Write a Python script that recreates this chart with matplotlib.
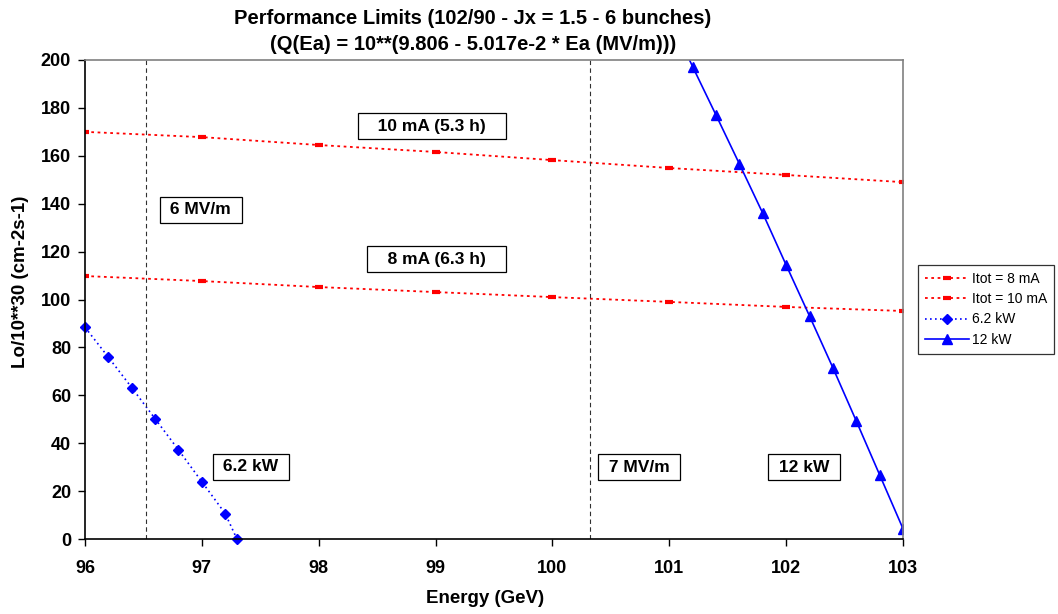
import numpy as np
import matplotlib
matplotlib.use("Agg")
import matplotlib.pyplot as plt

plt.rcParams['font.family'] = ['Liberation Sans', 'DejaVu Sans']

# =====================================================
# data
energy_itot = [96, 97, 98, 99, 100, 101, 102, 103]
lum_8ma = [109.8, 107.7, 105.2, 103.1, 101.0, 99.0, 96.9, 95.2]
lum_10ma = [170.0, 167.8, 164.5, 161.6, 158.2, 154.9, 152.0, 149.0]

energy_62kw = [96.0, 96.2, 96.4, 96.6, 96.8, 97.0, 97.2, 97.3]
lum_62kw = [88.4, 75.9, 63.2, 50.2, 37.2, 23.9, 10.6, 0.0]

energy_12kw = [101.0, 101.2, 101.4, 101.6, 101.8, 102.0, 102.2, 102.4, 102.6, 102.8, 103.0]
lum_12kw = [218.0, 197.2, 177.0, 156.6, 136.0, 114.4, 93.1, 71.5, 49.3, 26.8, 4.3]

gradient_energy = [96.52, 100.32]   # 6 MV/m and 7 MV/m limits

label_text = ["10 mA (5.3 h)", "8 mA (6.3 h)", "6 MV/m", "6.2 kW", "7 MV/m", "12 kW"]
label_x = [98.97, 99.01, 96.99, 97.42, 100.74, 102.15]
label_y = [172.4, 116.9, 137.4, 30.1, 30.0, 30.0]
label_wide = [True, True, False, False, False, False]   # the current boxes are wider

# =====================================================
fig = plt.figure(figsize=(10.58, 6.14), dpi=100)
ax = fig.add_axes([85 / 1058, 1 - 539 / 614, 818 / 1058, 479 / 614])

ax.plot(energy_itot, lum_8ma, color='red', linestyle=(0, (1.5, 2)), linewidth=1.3,
        marker='_', markersize=6, markeredgewidth=3, label='Itot = 8 mA')
ax.plot(energy_itot, lum_10ma, color='red', linestyle=(0, (1.5, 2)), linewidth=1.3,
        marker='_', markersize=6, markeredgewidth=3, label='Itot = 10 mA')
ax.plot(energy_62kw, lum_62kw, color='blue', linestyle=(0, (1, 2)), linewidth=1.2,
        marker='D', markersize=5.5, label='6.2 kW', clip_on=False)
ax.plot(energy_12kw, lum_12kw, color='blue', linestyle='-', linewidth=1.2,
        marker='^', markersize=7, label='12 kW')

for e in gradient_energy:
    ax.axvline(e, color='#303030', linestyle=(0, (4, 3)), linewidth=0.8)

for text, x, y, wide in zip(label_text, label_x, label_y, label_wide):
    pad = '   ' if wide else ' '
    ax.text(x, y, pad + text + pad, ha='center', va='center', fontsize=12.5, fontweight='bold',
            bbox=dict(boxstyle='square,pad=0.33', facecolor='white', edgecolor='black', linewidth=0.9))

ax.set_xlim(96, 103)
ax.set_ylim(0, 200)
ax.set_xticks(np.arange(96, 104, 1))
ax.set_yticks(np.arange(0, 201, 20))
ax.tick_params(axis='both', direction='out', length=5, width=1, labelsize=13)
ax.tick_params(axis='x', pad=10)
ax.tick_params(axis='y', pad=5)
for lbl in ax.get_xticklabels() + ax.get_yticklabels():
    lbl.set_fontweight('bold')

ax.spines['left'].set_color('black')
ax.spines['bottom'].set_color('black')
ax.spines['top'].set_color('#808080')
ax.spines['right'].set_color('#808080')
for s in ax.spines.values():
    s.set_linewidth(1.2)

ax.set_xlabel('Energy (GeV)', fontsize=13.5, fontweight='bold')
ax.set_ylabel('Lo/10**30 (cm-2s-1)', fontsize=13.5, fontweight='bold')
ax.xaxis.set_label_coords(0.489, -0.106)
ax.yaxis.set_label_coords(-0.068, 0.536)

fig.text(473 / 1058, 1 - 18 / 614, 'Performance Limits (102/90 - Jx = 1.5 - 6 bunches)',
         ha='center', va='center', fontsize=14.5, fontweight='bold')
fig.text(473 / 1058, 1 - 44 / 614, '(Q(Ea) = 10**(9.806 - 5.017e-2 * Ea (MV/m)))',
         ha='center', va='center', fontsize=14.5, fontweight='bold')

leg = ax.legend(loc='upper left', bbox_to_anchor=(918 / 1058, 1 - 265 / 614),
                bbox_transform=fig.transFigure, fontsize=10, frameon=True, fancybox=False,
                borderpad=0.5, labelspacing=0.45, handlelength=3.2, handletextpad=0.2,
                borderaxespad=0)
leg.get_frame().set_edgecolor('black')
leg.get_frame().set_linewidth(0.9)

plt.savefig('out.png', dpi=100)
plt.close()
